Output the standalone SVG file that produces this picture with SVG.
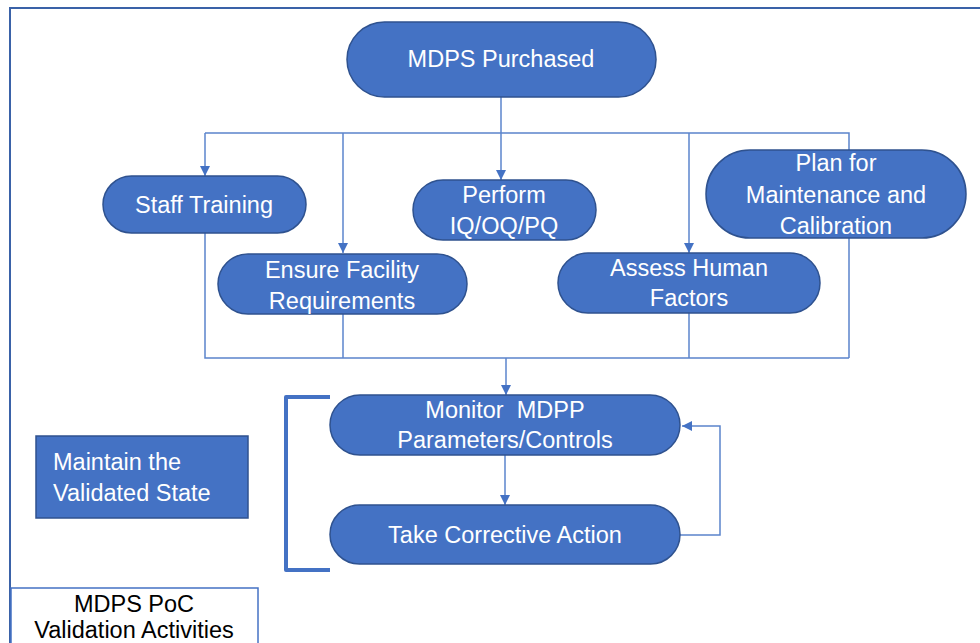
<svg xmlns="http://www.w3.org/2000/svg" width="980" height="643" viewBox="0 0 980 643">
<defs>
<marker id="ah" viewBox="0 0 10 10" refX="10" refY="5" markerWidth="10" markerHeight="10" markerUnits="userSpaceOnUse" orient="auto">
<path d="M0,0 L10,5 L0,10 Z" fill="#4472C4"/>
</marker>
<style>
.node{fill:#4472C4;stroke:#2F528F;stroke-width:1.5}
.t{font-family:"Liberation Sans",Arial,sans-serif;font-size:23.5px;fill:#FFFFFF;text-anchor:middle;white-space:pre}
.tl{font-family:"Liberation Sans",Arial,sans-serif;font-size:23.5px;fill:#FFFFFF;white-space:pre}
.tb{font-family:"Liberation Sans",Arial,sans-serif;font-size:23.5px;fill:#000000;text-anchor:middle}
.c{fill:none;stroke:#5B84CC;stroke-width:1.5}
.ca{fill:none;stroke:#5B84CC;stroke-width:1.5;marker-end:url(#ah)}
</style>
</defs>
<rect width="980" height="643" fill="#FFFFFF"/>
<path d="M10,643 V8 H980" fill="none" stroke="#3A62A8" stroke-width="2"/>
<g id="connectors">
<path class="c" d="M501,97 V133"/>
<path class="c" d="M205,133 H849 V358"/>
<path class="ca" d="M205,133 V176"/>
<path class="ca" d="M343,133 V253"/>
<path class="ca" d="M501,133 V180"/>
<path class="ca" d="M689,133 V253"/>
<path class="c" d="M205,233 V358 H849"/>
<path class="c" d="M343,314 V358"/>
<path class="c" d="M689,313 V358"/>
<path class="ca" d="M506,358 V395" stroke-width="2.5"/>
<path class="ca" d="M505,455 V505"/>
<path class="ca" d="M680,535 H720 V426 H682"/>
</g>
<g id="bracket">
<path d="M330,397 H286 V570 H330" fill="none" stroke="#4472C4" stroke-width="4" stroke-linejoin="round"/>
</g>
<g id="mdps-purchased">
<rect class="node" x="347" y="22" width="309" height="75" rx="37.5"/>
<text class="t" x="501" y="67">MDPS Purchased</text>
</g>
<g id="staff-training">
<rect class="node" x="103" y="176" width="203" height="57" rx="28.5"/>
<text class="t" x="204" y="213">Staff Training</text>
</g>
<g id="perform-iq">
<rect class="node" x="413" y="180" width="183" height="60" rx="30"/>
<text class="t" x="504" y="203">Perform</text>
<text class="t" x="504" y="234">IQ/OQ/PQ</text>
</g>
<g id="plan-maintenance">
<rect class="node" x="706" y="150" width="260" height="88" rx="44"/>
<text class="t" x="836" y="171">Plan for</text>
<text class="t" x="836" y="203">Maintenance and</text>
<text class="t" x="836" y="234">Calibration</text>
</g>
<g id="ensure-facility">
<rect class="node" x="218" y="254" width="249" height="60" rx="30"/>
<text class="t" x="342" y="278">Ensure Facility</text>
<text class="t" x="342" y="309">Requirements</text>
</g>
<g id="assess-human">
<rect class="node" x="558" y="253" width="262" height="60" rx="30"/>
<text class="t" x="689" y="276">Assess Human</text>
<text class="t" x="689" y="306">Factors</text>
</g>
<g id="monitor">
<rect class="node" x="330" y="395" width="350" height="60" rx="30"/>
<text class="t" x="505" y="418">Monitor  MDPP</text>
<text class="t" x="505" y="448">Parameters/Controls</text>
</g>
<g id="corrective">
<rect class="node" x="330" y="505" width="350" height="59" rx="29.5"/>
<text class="t" x="505" y="543">Take Corrective Action</text>
</g>
<g id="maintain">
<rect class="node" x="36" y="436" width="212" height="82"/>
<text class="tl" x="53" y="470">Maintain the</text>
<text class="tl" x="53" y="501">Validated State</text>
</g>
<g id="poc-label">
<rect x="11" y="588" width="247" height="60" fill="#FFFFFF" stroke="#4472C4" stroke-width="1.5"/>
<text class="tb" x="134" y="612">MDPS PoC</text>
<text class="tb" x="134" y="638">Validation Activities</text>
</g>
</svg>
